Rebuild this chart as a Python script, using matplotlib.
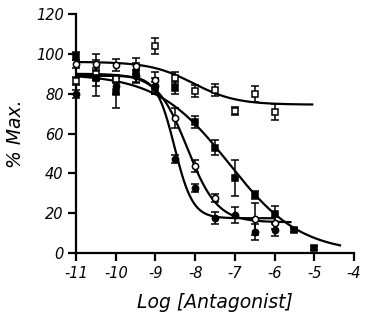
import numpy as np
import matplotlib
matplotlib.use("Agg")
import matplotlib.pyplot as plt

# ---- data ----
x_os = [-11, -10.5, -10, -9, -8.5, -8, -7.5, -7, -6.5, -6]
y_os = [86.5, 90, 87.4, 104, 88, 81.4, 82, 71.4, 80, 71]
e_os = [2, 3, 2, 4, 3, 3, 3, 2, 4, 4]

x_oc = [-11, -10.5, -10, -9.5, -9, -8.5, -8, -7.5, -6.5, -6]
y_oc = [95, 95, 94.5, 94, 87, 68, 43.7, 27.6, 17, 15]
e_oc = [2, 5, 3, 4, 4, 5, 3, 2, 8, 3]

x_fs = [-11, -10.5, -10, -9.5, -9, -8.5, -8, -7.5, -7, -6.5, -6, -5.5, -5]
y_fs = [99, 88, 81, 90.5, 83, 83, 66, 53, 37.5, 29, 19.6, 11.6, 2.5]
e_fs = [2, 4, 8, 5, 3, 3, 3, 4, 9, 2, 4, 1, 1]

x_fc = [-11, -10.5, -10, -9.5, -9, -8.5, -8, -7.5, -7, -6.5, -6]
y_fc = [80, 88, 84, 89, 84, 47, 32.7, 17.6, 19, 10.5, 11.6]
e_fc = [2, 9, 4, 3, 4, 2, 2, 3, 4, 4, 3]

# fitted curve parameters: top, bottom, logIC50, hill, x-end
fit_os = [96, 74.5, -8.05, 0.8, -5.05]
fit_oc = [90, 15.5, -8.2, 1.15, -5.6]
fit_fs = [90, 0, -7.15, 0.48, -4.35]
fit_fc = [89, 17.5, -8.52, 1.9, -6.0]

xticks = [-11, -10, -9, -8, -7, -6, -5, -4]
yticks = [0, 20, 40, 60, 80, 100, 120]

plt.rcParams['font.family'] = ['DejaVu Sans']

fig = plt.figure(figsize=(3.66, 3.18), dpi=100)
ax = fig.add_axes([0.208, 0.204, 0.759, 0.752])

def curve(p):
    top, bot, c, h, xe = p
    xs = np.linspace(-11, xe, 300)
    return xs, bot + (top - bot) / (1 + 10 ** (h * (xs - c)))

for p in (fit_os, fit_oc, fit_fs, fit_fc):
    xs, ys = curve(p)
    ax.plot(xs, ys, color='black', lw=1.6, zorder=2, clip_on=False)

kw = dict(ls='none', ecolor='black', elinewidth=1.1, capsize=2.8, capthick=1.1,
          mec='black', mew=1.1, zorder=3, clip_on=False)
ax.errorbar(x_os, y_os, yerr=e_os, fmt='s', ms=5, mfc='white', **kw)
ax.errorbar(x_fs, y_fs, yerr=e_fs, fmt='s', ms=5, mfc='black', **kw)
ax.errorbar(x_fc, y_fc, yerr=e_fc, fmt='o', ms=4.5, mfc='black', **kw)
ax.errorbar(x_oc, y_oc, yerr=e_oc, fmt='o', ms=4.5, mfc='white', **kw)

ax.set_xlim(-11, -4)
ax.set_ylim(0, 120)
ax.set_xticks(xticks)
ax.set_yticks(yticks)
ax.set_xticklabels([str(t) for t in xticks], style='italic', fontsize=10.5)
ax.set_yticklabels([str(t) for t in yticks], style='italic', fontsize=10.5)
for s in ('top', 'right'):
    ax.spines[s].set_visible(False)
for s in ('left', 'bottom'):
    ax.spines[s].set_linewidth(1.6)
ax.tick_params(direction='out', length=6, width=1.6, pad=3)
ax.set_xlabel('Log [Antagonist]', style='italic', fontsize=13.5, labelpad=9)
ax.set_ylabel('% Max.', style='italic', fontsize=13.5, labelpad=8)

fig.savefig('out.png', dpi=100)
